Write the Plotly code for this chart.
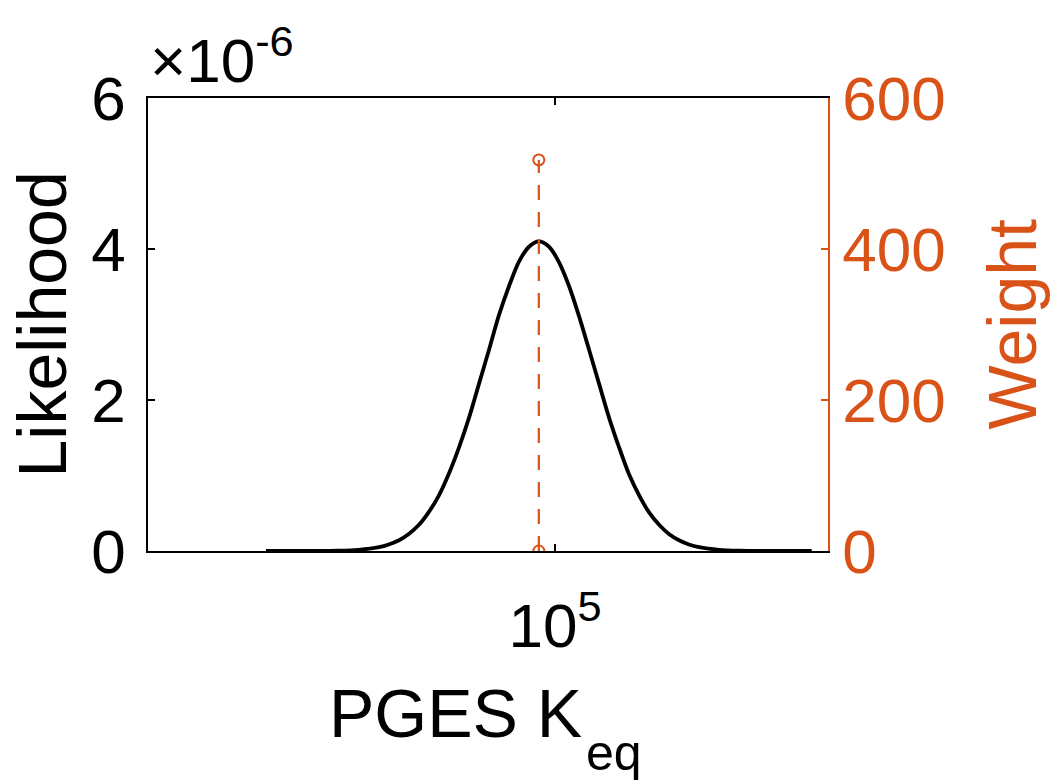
import plotly.graph_objects as go

# ---- data ----
# log10(PGES K_eq) sample positions of the likelihood curve
log_k = [4.320, 4.421, 4.491, 4.538, 4.586, 4.609, 4.633, 4.656, 4.680, 4.703,
         4.727, 4.750, 4.774, 4.798, 4.821, 4.845, 4.868, 4.892, 4.915, 4.939,
         4.962,
         4.986, 5.009, 5.033, 5.056, 5.080, 5.104, 5.127, 5.151, 5.174, 5.198,
         5.221, 5.245, 5.268, 5.292, 5.315, 5.339, 5.386, 5.433, 5.503, 5.604]
# likelihood values in units of 1e-6
likelihood_e6 = [0.0, 0.0005, 0.004, 0.016, 0.051, 0.087, 0.142, 0.226, 0.347, 0.515,
                 0.738, 1.02, 1.37, 1.77, 2.21, 2.67, 3.12, 3.51, 3.83, 4.03,
                 4.10,
                 4.03, 3.83, 3.51, 3.12, 2.67, 2.21, 1.77, 1.37, 1.02, 0.738,
                 0.515, 0.347, 0.226, 0.142, 0.087, 0.051, 0.016, 0.004, 0.0005, 0.0]

stem_log_k = [4.962, 4.962]
stem_weight = [0, 518]

left_ticks = [0, 2, 4, 6]          # x 1e-6
right_ticks = [0, 200, 400, 600]
x_tick_exp = [5]

ORANGE = "#D95319"
FONT = "Liberation Sans, Arial, sans-serif"
TICK_SIZE = 62
TITLE_SIZE = 68

x_vals = [10 ** v for v in log_k]
y_vals = [v * 1e-6 for v in likelihood_e6]
stem_x = [10 ** v for v in stem_log_k]

fig = go.Figure()
fig.add_trace(go.Scatter(x=x_vals, y=y_vals, mode="lines",
                         line=dict(color="black", width=3.8, shape="spline", smoothing=0.8),
                         yaxis="y", showlegend=False))
fig.add_trace(go.Scatter(x=stem_x, y=stem_weight, mode="lines+markers",
                         line=dict(color=ORANGE, width=2.2, dash="15px,12px"),
                         marker=dict(symbol="circle-open", size=11, color=ORANGE,
                                     line=dict(width=2, color=ORANGE)),
                         yaxis="y2", showlegend=False))

fig.update_layout(
    width=1051, height=784, autosize=False,
    margin=dict(l=148, r=223, t=98, b=233),
    paper_bgcolor="white", plot_bgcolor="white",
    font=dict(family=FONT, color="black"),
    xaxis=dict(type="log", range=[4.0424, 5.6424],
               tickvals=[10 ** e for e in x_tick_exp],
               ticktext=["10<sup>%d</sup>" % e for e in x_tick_exp],
               ticks="inside", ticklen=7, tickwidth=1.5, tickcolor="black",
               showline=True, linecolor="black", linewidth=1.8, mirror="ticks",
               showgrid=False, zeroline=False, ticklabelstandoff=20,
               tickfont=dict(size=TICK_SIZE, color="black", family=FONT)),
    yaxis=dict(range=[0, 6e-6],
               tickvals=[t * 1e-6 for t in left_ticks],
               ticktext=[str(t) for t in left_ticks],
               ticks="inside", ticklen=7, tickwidth=1.5, tickcolor="black",
               showline=True, linecolor="black", linewidth=1.8,
               showgrid=False, zeroline=False, ticklabelstandoff=8,
               tickfont=dict(size=TICK_SIZE, color="black", family=FONT)),
    yaxis2=dict(range=[0, 600], overlaying="y", side="right",
                tickvals=right_ticks, ticktext=[str(t) for t in right_ticks],
                ticks="inside", ticklen=7, tickwidth=1.5, tickcolor=ORANGE,
                showline=True, linecolor=ORANGE, linewidth=1.8,
                showgrid=False, zeroline=False,
                tickfont=dict(size=TICK_SIZE, color=ORANGE, family=FONT)),
)

fig.add_annotation(text="Likelihood", xref="paper", yref="paper", x=0, y=0.5,
                   xanchor="center", yanchor="middle", xshift=-107, textangle=-90,
                   showarrow=False, font=dict(size=TITLE_SIZE, color="black", family=FONT))
fig.add_annotation(text="Weight", xref="paper", yref="paper", x=1, y=0.5,
                   xanchor="center", yanchor="middle", xshift=183, textangle=-90,
                   showarrow=False, font=dict(size=TITLE_SIZE, color=ORANGE, family=FONT))
fig.add_annotation(text="PGES K", xref="paper", yref="paper", x=(584 - 148) / 680, y=0,
                   xanchor="right", yanchor="top", yshift=-122,
                   showarrow=False, font=dict(size=TITLE_SIZE, color="black", family=FONT))
fig.add_annotation(text="eq", xref="paper", yref="paper", x=(584 - 148) / 680, y=0,
                   xanchor="left", yanchor="top", yshift=-172,
                   showarrow=False, font=dict(size=50, color="black", family=FONT))
fig.add_annotation(text="×10<sup>-6</sup>", xref="paper", yref="paper", x=0, y=1,
                   xanchor="left", yanchor="bottom", yshift=1,
                   showarrow=False, font=dict(size=TICK_SIZE, color="black", family=FONT))

fig.write_html("out.html")
